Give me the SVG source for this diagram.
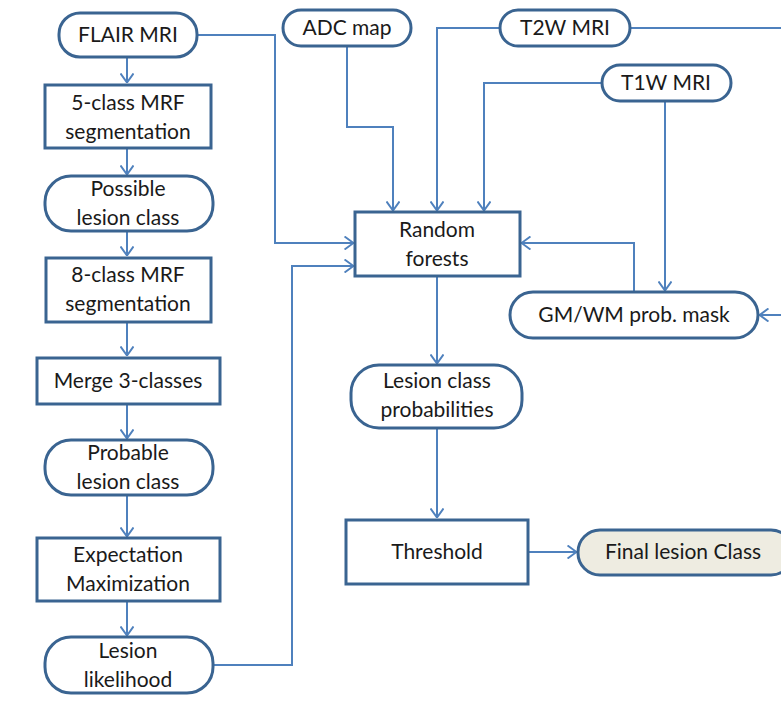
<svg xmlns="http://www.w3.org/2000/svg" width="781" height="710" viewBox="0 0 781 710">
<defs>
<style>
.box{fill:#fff;stroke:#3A6491;stroke-width:3}
.fin{fill:#EEECE1;stroke:#3A6491;stroke-width:3}
.t{font-family:Lato,"Liberation Sans",sans-serif;font-size:21px;fill:#1a1a1a;text-anchor:middle}
.c{fill:none;stroke:#4F81BD;stroke-width:2}
</style>
<marker id="arr" viewBox="0 0 10 14" refX="10" refY="7" markerWidth="10" markerHeight="14" orient="auto" markerUnits="userSpaceOnUse">
<path d="M0.5,0.5 L9.5,7 L0.5,13.5" fill="none" stroke="#4F81BD" stroke-width="2"/>
</marker>
</defs>
<rect width="781" height="710" fill="#fff"/>
<g id="connectors">
<path class="c" d="M127,57 V83" marker-end="url(#arr)"/>
<path class="c" d="M127,149 V175" marker-end="url(#arr)"/>
<path class="c" d="M127,231 V256" marker-end="url(#arr)"/>
<path class="c" d="M127,322 V356" marker-end="url(#arr)"/>
<path class="c" d="M127,404 V439" marker-end="url(#arr)"/>
<path class="c" d="M127,496 V537" marker-end="url(#arr)"/>
<path class="c" d="M127,601 V636" marker-end="url(#arr)"/>
<path class="c" d="M197,35 H275 V243 H354" marker-end="url(#arr)"/>
<path class="c" d="M213,665 H292 V266 H354" marker-end="url(#arr)"/>
<path class="c" d="M347,47 V127 H393 V211" marker-end="url(#arr)"/>
<path class="c" d="M500,28 H437 V211" marker-end="url(#arr)"/>
<path class="c" d="M630,28 H781"/>
<path class="c" d="M602,83 H484 V211" marker-end="url(#arr)"/>
<path class="c" d="M665,101 V291" marker-end="url(#arr)"/>
<path class="c" d="M781,315 H759" marker-end="url(#arr)"/>
<path class="c" d="M634,292 V243 H521" marker-end="url(#arr)"/>
<path class="c" d="M437,277 V364" marker-end="url(#arr)"/>
<path class="c" d="M437,428 V518" marker-end="url(#arr)"/>
<path class="c" d="M528,552 H577" marker-end="url(#arr)"/>
</g>
<g id="flair"><rect class="box" x="59" y="13" width="138" height="44" rx="21"/><text class="t" x="128" y="42">FLAIR MRI</text></g>
<g id="mrf5"><rect class="box" x="45" y="85" width="166" height="63"/><text class="t" x="128" y="110">5-class MRF</text><text class="t" x="128" y="139">segmentation</text></g>
<g id="possible"><rect class="box" x="45" y="176" width="168" height="55" rx="26"/><text class="t" x="128" y="196">Possible</text><text class="t" x="128" y="225">lesion class</text></g>
<g id="mrf8"><rect class="box" x="46" y="258" width="165" height="64"/><text class="t" x="128" y="282">8-class MRF</text><text class="t" x="128" y="311">segmentation</text></g>
<g id="merge"><rect class="box" x="37" y="358" width="183" height="46"/><text class="t" x="128" y="388">Merge 3-classes</text></g>
<g id="probable"><rect class="box" x="45" y="440" width="168" height="55" rx="26"/><text class="t" x="128" y="460">Probable</text><text class="t" x="128" y="489">lesion class</text></g>
<g id="em"><rect class="box" x="37" y="538" width="183" height="63"/><text class="t" x="128" y="562">Expectation</text><text class="t" x="128" y="591">Maximization</text></g>
<g id="likelihood"><rect class="box" x="45" y="637" width="168" height="56" rx="26"/><text class="t" x="128" y="658">Lesion</text><text class="t" x="128" y="687">likelihood</text></g>
<g id="adc"><rect class="box" x="283" y="10" width="128" height="36" rx="18"/><text class="t" x="347" y="35">ADC map</text></g>
<g id="t2w"><rect class="box" x="500" y="10" width="130" height="36" rx="18"/><text class="t" x="565" y="35">T2W MRI</text></g>
<g id="t1w"><rect class="box" x="602" y="65" width="129" height="36" rx="18"/><text class="t" x="666" y="90">T1W MRI</text></g>
<g id="rf"><rect class="box" x="355" y="212" width="165" height="64"/><text class="t" x="437" y="237">Random</text><text class="t" x="437" y="266">forests</text></g>
<g id="gmwm"><rect class="box" x="510" y="292" width="248" height="46" rx="23"/><text class="t" x="634" y="322">GM/WM prob. mask</text></g>
<g id="probs"><rect class="box" x="351" y="365" width="171" height="63" rx="28"/><text class="t" x="437" y="388">Lesion class</text><text class="t" x="437" y="417">probabilities</text></g>
<g id="threshold"><rect class="box" x="346" y="520" width="182" height="64"/><text class="t" x="437" y="559">Threshold</text></g>
<g id="final"><rect class="fin" x="578" y="530" width="215" height="45" rx="22"/><text class="t" x="683" y="559">Final lesion  Class</text></g>
</svg>
